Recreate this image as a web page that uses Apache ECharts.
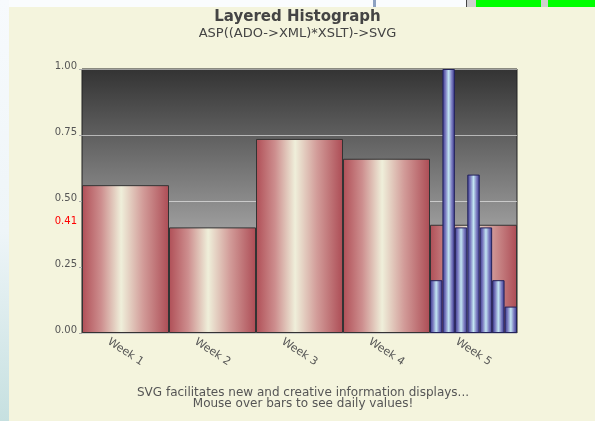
<!DOCTYPE html>
<html><head><meta charset="utf-8">
<script src="https://cdn.jsdelivr.net/npm/echarts@6/dist/echarts.min.js"></script>
<style>
html,body{margin:0;padding:0;width:595px;height:421px;overflow:hidden;
background:linear-gradient(#f7fafd,#eef5f8 55%,#c6e0e0);}
#panel{position:absolute;left:9px;top:7px;width:586px;height:414px;background:#f4f4dd;}
#chart{position:absolute;left:0;top:0;width:595px;height:421px;}
.d{position:absolute;top:0;height:7px;}
</style></head><body>
<div class="d" style="left:9px;width:586px;background:#fafcfe"></div>
<div class="d" style="left:373px;width:3px;background:#8ea2c2"></div>
<div class="d" style="left:466px;width:1px;background:#444"></div>
<div class="d" style="left:467px;width:9px;background:#cfcfcf"></div>
<div class="d" style="left:476px;width:65px;background:#00ff00"></div>
<div class="d" style="left:541px;width:7px;background:#cfcfcf"></div>
<div class="d" style="left:548px;width:47px;background:#00ff00"></div>
<div id="panel"></div>
<div id="chart"></div>
<script>
// ---- data ----
var weeks = ['Week 1', 'Week 2', 'Week 3', 'Week 4', 'Week 5'];
var weekAverages = [0.56, 0.40, 0.735, 0.66, 0.41];
var week5Daily = [0.20, 1.00, 0.40, 0.60, 0.40, 0.20, 0.10];
var yTicks = [0, 0.25, 0.5, 0.75, 1.0];
var averageLabel = '0.41';
var titleText = 'Layered Histograph';
var subtitleText = 'ASP((ADO->XML)*XSLT)->SVG';
var footerLines = ['SVG facilitates new and creative information displays...', 'Mouse over bars to see daily values!'];

// table for the daily axis: 7 days per week, only week 5 shown
var dayCats = [];
var dailyTable = [];
weeks.forEach(function (w, wi) {
  for (var d = 0; d < 7; d++) {
    dayCats.push(w + ' D' + (d + 1));
    dailyTable.push(wi === weeks.length - 1 ? week5Daily[d] : null);
  }
});

var FONT = 'DejaVu Sans';
var chart = echarts.init(document.getElementById('chart'), null, {renderer: 'canvas'});
var redGrad = new echarts.graphic.LinearGradient(0, 0, 1, 0, [
  {offset: 0, color: '#b04f57'},
  {offset: 0.22, color: '#cd8e8e'},
  {offset: 0.45, color: '#efefda'},
  {offset: 0.7, color: '#d29c99'},
  {offset: 1, color: '#ad4c55'}
]);
var blueGrad = new echarts.graphic.LinearGradient(0, 0, 1, 0, [
  {offset: 0, color: '#34348a'},
  {offset: 0.25, color: '#7c7cc0'},
  {offset: 0.5, color: '#c2e6f2'},
  {offset: 0.75, color: '#7c7cc0'},
  {offset: 1, color: '#34348a'}
]);
var footerGraphics = footerLines.map(function (line, i) {
  return {type: 'text', x: 303, y: 393 + i * 11, silent: true,
    style: {text: line, align: 'center', verticalAlign: 'middle', fill: '#555',
      font: '12px "DejaVu Sans"'}};
});
chart.setOption({
  animation: false,
  backgroundColor: 'transparent',
  title: [
    {text: titleText, subtext: subtitleText, left: 'center', top: 5, itemGap: 2,
     textStyle: {fontFamily: FONT, fontSize: 15, fontWeight: 'bold', color: '#444'},
     subtextStyle: {fontFamily: FONT, fontSize: 13, color: '#444'}}
  ],
  graphic: footerGraphics,
  grid: {left: 82, right: 78, top: 69, bottom: 88, show: true, borderColor: '#222', borderWidth: 1,
    backgroundColor: new echarts.graphic.LinearGradient(0, 0, 0, 1, [
      {offset: 0, color: '#333333'}, {offset: 1, color: '#e2e2e2'}])},
  xAxis: [
    {type: 'category', data: weeks, axisLine: {show: false}, axisTick: {show: false},
     axisLabel: {rotate: -33, align: 'center', verticalAlign: 'middle', margin: 19,
       fontFamily: FONT, fontSize: 11, color: '#555'}},
    {type: 'category', data: dayCats, show: false}
  ],
  yAxis: {type: 'value', min: yTicks[0], max: yTicks[yTicks.length - 1], interval: 0.25,
    axisLine: {show: false},
    axisTick: {show: true, length: 3, lineStyle: {color: '#aaa'}},
    splitLine: {lineStyle: {color: 'rgba(255,255,255,0.55)', width: 1}},
    axisLabel: {formatter: function (v) { return v.toFixed(2); }, margin: 5,
      fontFamily: FONT, fontSize: 10, color: '#555', verticalAlign: 'bottom', lineHeight: 10,
      padding: [0, 0, -2, 0]}},
  series: [
    {type: 'bar', xAxisIndex: 0, data: weekAverages, barCategoryGap: '0%',
     itemStyle: {color: redGrad, borderColor: '#333', borderWidth: 1},
     markLine: {silent: true, symbol: 'none', lineStyle: {color: 'rgba(0,0,0,0)', width: 0},
       label: {show: true, position: 'start', formatter: averageLabel, color: '#ff0000', fontFamily: FONT,
         fontSize: 10, distance: 5, offset: [0, -3]},
       data: [{yAxis: weekAverages[weekAverages.length - 1]}]}},
    {type: 'bar', xAxisIndex: 1, data: dailyTable, barCategoryGap: '0%', z: 3,
     itemStyle: {color: blueGrad, borderColor: '#22225a', borderWidth: 1}}
  ]
});
</script>
</body></html>
